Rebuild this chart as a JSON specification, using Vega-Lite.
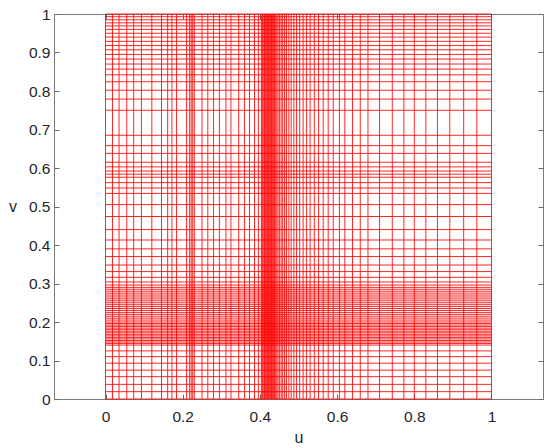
{
  "$schema": "https://vega.github.io/schema/vega-lite/v6.json",
  "width": 489,
  "height": 385,
  "autosize": "none",
  "padding": {"left": 54, "top": 14, "right": 7, "bottom": 49},
  "background": "white",
  "config": {
    "view": {"stroke": "#7a7a7a", "strokeWidth": 1},
    "axis": {
      "domain": false,
      "grid": false,
      "tickColor": "#6a6a6a",
      "tickSize": -5,
      "labelFont": "Liberation Sans",
      "labelFontSize": 15.5,
      "labelColor": "#262626",
      "titleFont": "Liberation Sans",
      "titleFontSize": 16,
      "titleFontWeight": "normal",
      "titleColor": "#262626",
      "format": "~g"
    }
  },
  "datasets": {
    "us": [
      {"u": 0}, {"u": 0.018}, {"u": 0.035}, {"u": 0.055}, {"u": 0.073}, {"u": 0.093}, {"u": 0.12}, {"u": 0.145}, {"u": 0.161}, {"u": 0.172}, {"u": 0.184}, {"u": 0.21}, {"u": 0.218}, {"u": 0.222}, {"u": 0.226}, {"u": 0.23}, {"u": 0.25}, {"u": 0.265}, {"u": 0.28}, {"u": 0.295}, {"u": 0.312}, {"u": 0.325}, {"u": 0.345}, {"u": 0.36}, {"u": 0.373}, {"u": 0.386}, {"u": 0.396}, {"u": 0.404}, {"u": 0.407}, {"u": 0.41}, {"u": 0.412}, {"u": 0.414}, {"u": 0.416}, {"u": 0.418}, {"u": 0.42}, {"u": 0.422}, {"u": 0.424}, {"u": 0.426}, {"u": 0.428}, {"u": 0.43}, {"u": 0.432}, {"u": 0.434}, {"u": 0.436}, {"u": 0.438}, {"u": 0.441}, {"u": 0.444}, {"u": 0.447}, {"u": 0.451}, {"u": 0.455}, {"u": 0.459}, {"u": 0.464}, {"u": 0.469}, {"u": 0.475}, {"u": 0.481}, {"u": 0.488}, {"u": 0.495}, {"u": 0.503}, {"u": 0.512}, {"u": 0.521}, {"u": 0.53}, {"u": 0.541}, {"u": 0.552}, {"u": 0.564}, {"u": 0.577}, {"u": 0.59}, {"u": 0.606}, {"u": 0.62}, {"u": 0.64}, {"u": 0.66}, {"u": 0.68}, {"u": 0.71}, {"u": 0.743}, {"u": 0.773}, {"u": 0.8}, {"u": 0.83}, {"u": 0.86}, {"u": 0.892}, {"u": 0.928}, {"u": 0.962}, {"u": 1.0}
    ],
    "vs": [
      {"v": 1.0}, {"v": 0.993}, {"v": 0.985}, {"v": 0.977}, {"v": 0.969}, {"v": 0.96}, {"v": 0.95}, {"v": 0.94}, {"v": 0.929}, {"v": 0.918}, {"v": 0.907}, {"v": 0.895}, {"v": 0.883}, {"v": 0.87}, {"v": 0.857}, {"v": 0.842}, {"v": 0.824}, {"v": 0.802}, {"v": 0.779}, {"v": 0.75}, {"v": 0.685}, {"v": 0.658}, {"v": 0.638}, {"v": 0.615}, {"v": 0.603}, {"v": 0.592}, {"v": 0.584}, {"v": 0.576}, {"v": 0.562}, {"v": 0.548}, {"v": 0.534}, {"v": 0.505}, {"v": 0.474}, {"v": 0.44}, {"v": 0.413}, {"v": 0.39}, {"v": 0.37}, {"v": 0.348}, {"v": 0.331}, {"v": 0.316}, {"v": 0.304}, {"v": 0.296},
      {"v": 0.29}, {"v": 0.285}, {"v": 0.28}, {"v": 0.275}, {"v": 0.27}, {"v": 0.265}, {"v": 0.26}, {"v": 0.255}, {"v": 0.25}, {"v": 0.245}, {"v": 0.24}, {"v": 0.235}, {"v": 0.23}, {"v": 0.225}, {"v": 0.22}, {"v": 0.215}, {"v": 0.21}, {"v": 0.205}, {"v": 0.2}, {"v": 0.196}, {"v": 0.192}, {"v": 0.188}, {"v": 0.184}, {"v": 0.18}, {"v": 0.176}, {"v": 0.172}, {"v": 0.168}, {"v": 0.164}, {"v": 0.16}, {"v": 0.156}, {"v": 0.152}, {"v": 0.148}, {"v": 0.144}, {"v": 0.14},
      {"v": 0.125}, {"v": 0.11}, {"v": 0.093}, {"v": 0.075}, {"v": 0.058}, {"v": 0.038}, {"v": 0.019}, {"v": 0.0}
    ]
  },
  "resolve": {"axis": {"x": "independent", "y": "independent"}},
  "layer": [
    {
      "data": {"name": "us"},
      "mark": {"type": "rule", "color": "#ff0000", "strokeWidth": 1, "opacity": 0.85},
      "encoding": {
        "x": {"field": "u", "type": "quantitative", "scale": {"domain": [-0.1335, 1.1335], "nice": false, "zero": false},
              "axis": {"orient": "bottom", "values": [0, 0.2, 0.4, 0.6, 0.8, 1], "title": "u", "labelPadding": 15, "titlePadding": 5}},
        "y": {"datum": 0, "type": "quantitative", "scale": {"domain": [0, 1], "nice": false},
              "axis": {"orient": "right", "values": [0, 0.1, 0.2, 0.3, 0.4, 0.5, 0.6, 0.7, 0.8, 0.9, 1], "labels": false, "title": null}},
        "y2": {"datum": 1}
      }
    },
    {
      "data": {"name": "vs"},
      "mark": {"type": "rule", "color": "#ff0000", "strokeWidth": 1, "opacity": 0.85},
      "encoding": {
        "y": {"field": "v", "type": "quantitative", "scale": {"domain": [0, 1], "nice": false},
              "axis": {"orient": "left", "values": [0, 0.1, 0.2, 0.3, 0.4, 0.5, 0.6, 0.7, 0.8, 0.9, 1], "title": "v", "titleAngle": 0, "titleAlign": "right", "titleBaseline": "middle", "labelPadding": 9, "titlePadding": 12}},
        "x": {"datum": 0, "type": "quantitative", "scale": {"domain": [-0.1335, 1.1335], "nice": false, "zero": false},
              "axis": {"orient": "top", "values": [0, 0.2, 0.4, 0.6, 0.8, 1], "labels": false, "title": null}},
        "x2": {"datum": 1}
      }
    }
  ]
}
